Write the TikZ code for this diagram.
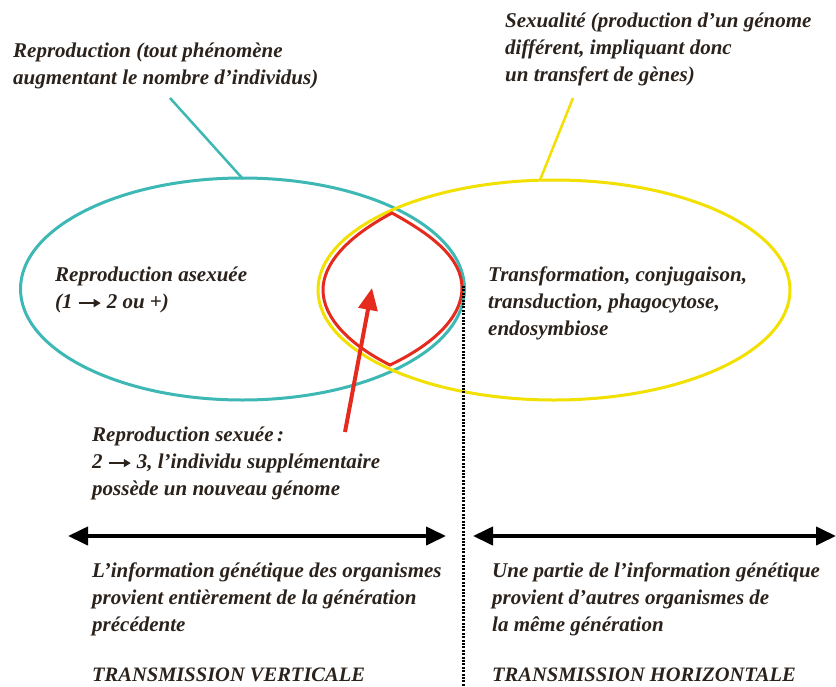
\documentclass[tikz,border=0pt]{standalone}
\usepackage{fontspec}
\setmainfont{Liberation Serif}
\usetikzlibrary{arrows.meta,shapes.geometric}
\definecolor{cyanc}{HTML}{3DB8B4}
\definecolor{yellowc}{HTML}{F2E000}
\definecolor{redc}{HTML}{E52B1E}
\definecolor{txt}{HTML}{2B221C}
\newcommand{\myarr}{\tikz[baseline={(0pt,-5.5pt)}]{\draw[txt, line width=1.6pt, -{Triangle[length=7pt,width=8pt]}] (0pt,0pt) -- (22pt,0pt);}}
\tikzset{
  lbl/.style={anchor=north west, inner sep=0pt, align=left, text=txt,
    font=\fontsize{21}{26.8}\selectfont\bfseries\itshape},
  caps/.style={anchor=north west, inner sep=0pt, text=txt,
    font=\fontsize{20.5}{24}\selectfont\bfseries\itshape},
  dbl/.style={line width=4pt, {Triangle[length=20pt,width=18pt]}-{Triangle[length=20pt,width=18pt]}},
}
\begin{document}
\begin{tikzpicture}[x=1pt,y=-1pt]
\useasboundingbox[fill=white] (0,0) rectangle (836,686);
% ellipses
\node[draw=cyanc, line width=3pt, ellipse, minimum width=444pt, minimum height=222pt, inner sep=0pt] (cyanE) at (242.5,289) {};
\node[draw=yellowc, line width=3pt, ellipse, minimum width=472pt, minimum height=220pt, inner sep=0pt] (yellowE) at (554,290) {};
% red lens
\draw[redc, line width=3pt, line join=miter]
  (392,213) .. controls (345,238) and (323,265) .. (323,290)
  .. controls (323,318) and (350,345) .. (390,365)
  .. controls (432,345) and (462,318) .. (462,288)
  .. controls (462,258) and (432,235) .. (392,213) -- cycle;
% leaders
\coordinate (cyT) at (170,98);
\coordinate (cyB) at (243,179);
\draw[cyanc, line width=2.5pt] (cyT) -- (cyB);
\coordinate (yeT) at (573,98);
\coordinate (yeB) at (540,180);
\draw[yellowc, line width=2.5pt] (yeT) -- (yeB);
% red arrow
\coordinate (raS) at (345,432);
\coordinate (raE) at (372,288);
\draw[redc, line width=4pt, -{Triangle[length=22pt,width=19pt]}] (raS) -- (raE);
% dotted line
\coordinate (dtT) at (463,286);
\coordinate (dtB) at (463,690);
\draw[black, line width=3pt, dash pattern=on 2pt off 1.4pt] (dtT) -- (dtB);
% double arrows
\coordinate (a1) at (68,536);
\coordinate (a2) at (446,536);
\coordinate (a3) at (473,536);
\coordinate (a4) at (836,536);
\draw[dbl] (a1) -- (a2);
\draw[dbl] (a3) -- (a4);
% texts
\node[lbl] (t1) at (13,43) {Reproduction (tout phénomène\\augmentant le nombre d'individus)};
\node[lbl] (t2) at (505,13) {Sexualité (production d'un génome\\différent, impliquant donc\\un transfert de gènes)};
\node[lbl] (t3) at (55,267) {Reproduction asexuée\\(1 \myarr\ 2 ou +)};
\node[lbl] (t4) at (488,267) {Transformation, conjugaison,\\transduction, phagocytose,\\endosymbiose};
\node[lbl] (t5) at (92,427) {Reproduction sexuée\,:\\2 \myarr\ 3, l'individu supplémentaire\\possède un nouveau génome};
\node[lbl] (t6) at (92,563) {L'information génétique des organismes\\provient entièrement de la génération\\précédente};
\node[lbl] (t7) at (492,563) {Une partie de l'information génétique\\provient d'autres organismes de\\la même génération};
\node[caps] (t8) at (92,668) {TRANSMISSION VERTICALE};
\node[caps] (t9) at (492,668) {TRANSMISSION HORIZONTALE};
\end{tikzpicture}
\end{document}
